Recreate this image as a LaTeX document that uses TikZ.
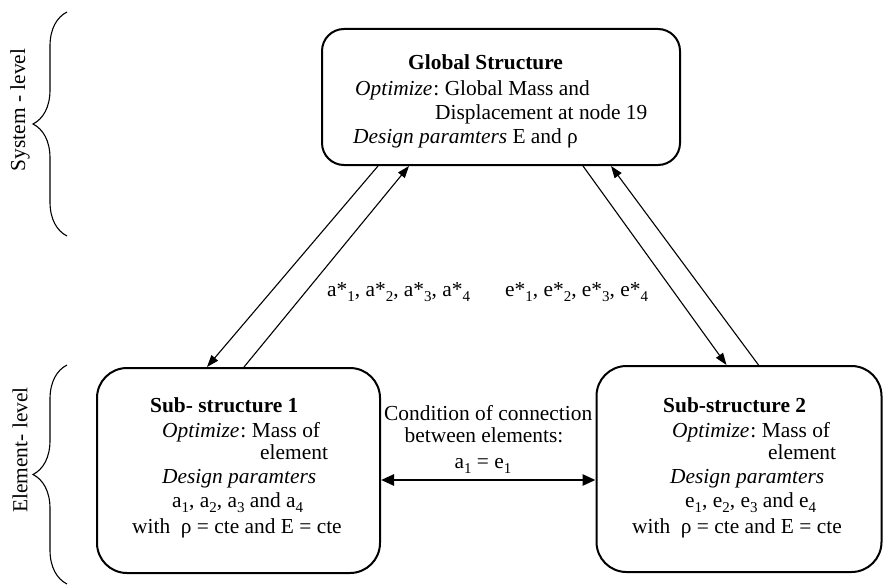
\documentclass[tikz,border=0pt]{standalone}
\usepackage{fontspec}
\setmainfont{Liberation Serif}
\usetikzlibrary{arrows.meta,decorations.pathreplacing}
% lowered, smaller index digits for a_1, e*_2, ...
\newcommand{\idx}[1]{\raisebox{-0.28em}{\fontsize{15}{15}\selectfont #1}}
\newcommand{\opt}{\textit{Optimize}\kern1pt:\ }
\begin{document}
\begin{tikzpicture}[x=1pt,y=-1pt,
  txt/.style={inner sep=0pt,font=\fontsize{21.4}{25}\selectfont},
  ln/.style={txt,anchor=base west},
  lnc/.style={txt,anchor=base},
  box/.style={draw,line width=2pt,rounded corners=#1,inner sep=0pt},
  flow/.style={line width=1.1pt,-{Triangle[length=12pt,width=8.5pt]}},
  link/.style={line width=2.6pt,{Triangle[length=13pt,width=11pt]}-{Triangle[length=13pt,width=11pt]}},
  lvlbrace/.style={line width=1.1pt,decorate,decoration={brace,amplitude=34pt}}
]
\useasboundingbox (0,0) rectangle (883,586);

% boxes
\node[box=22pt,minimum width=358pt,minimum height=136pt] (glob) at (501,97) {};
\node[box=30pt,minimum width=283pt,minimum height=205pt] (sub1) at (238.5,470.5) {};
\node[box=30pt,minimum width=285pt,minimum height=206pt] (sub2) at (739,469) {};

% global structure text
\node[ln,font=\fontsize{21.4}{25}\selectfont\bfseries] (g1) at (408,70) {Global Structure};
\node[ln] (g2) at (355,95) {\opt Global Mass and};
\node[ln] (g3) at (435,119) {Displacement at node 19};
\node[ln] (g4) at (353,143) {\textit{Design paramters} E and ρ};

% sub-structure 1 text
\node[ln,font=\fontsize{21.4}{25}\selectfont\bfseries] (s1a) at (150,412) {Sub- structure 1};
\node[ln] (s1b) at (162,437) {\opt Mass of};
\node[ln] (s1c) at (260,459) {element};
\node[ln] (s1d) at (162,483) {\textit{Design paramters}};
\node[ln] (s1e) at (172,507) {a\idx{1}, a\idx{2}, a\idx{3} and a\idx{4}};
\node[ln] (s1f) at (132,533) {with\ \ ρ = cte and E = cte};

% sub-structure 2 text
\node[ln,font=\fontsize{21.4}{25}\selectfont\bfseries] (s2a) at (663,412) {Sub-structure 2};
\node[ln] (s2b) at (672,437) {\opt Mass of};
\node[ln] (s2c) at (768,459) {element};
\node[ln] (s2d) at (670,483) {\textit{Design paramters}};
\node[ln] (s2e) at (685,507) {e\idx{1}, e\idx{2}, e\idx{3} and e\idx{4}};
\node[ln] (s2f) at (632,533) {with\ \ ρ = cte and E = cte};

% connection condition
\node[ln] (c1) at (384,420) {Condition of connection};
\node[lnc] (c2) at (484,442) {between elements:};
\node[lnc] (c3) at (483,468) {a\idx{1} = e\idx{1}};

% exchanged optima
\node[ln] (astar) at (327,296) {a*\idx{1}, a*\idx{2}, a*\idx{3}, a*\idx{4}};
\node[ln] (estar) at (505,296) {e*\idx{1}, e*\idx{2}, e*\idx{3}, e*\idx{4}};

% connectors between levels
\draw[flow] ([xshift=57pt]glob.south west) -- ([xshift=111pt]sub1.north west);
\draw[flow] ([xshift=148pt]sub1.north west) -- ([xshift=88pt]glob.south west);
\draw[flow] ([xshift=262pt]glob.south west) -- ([xshift=131pt]sub2.north west);
\draw[flow] ([xshift=163pt]sub2.north west) -- ([xshift=290pt]glob.south west);

% link between the two sub-structures
\draw[link] ([yshift=-9.5pt]sub1.east) -- ([yshift=-11pt]sub2.west);

% level braces and labels
\coordinate (sysB) at (67,236);
\coordinate (sysT) at (67,12);
\coordinate (elB) at (67,584);
\coordinate (elT) at (67,365);
\draw[lvlbrace] (sysB) -- (sysT);
\draw[lvlbrace] (elB) -- (elT);
\node[txt,rotate=90] (sys) at (20,110) {System - level};
\node[txt,rotate=90] (el) at (20,450) {Element- level};
\end{tikzpicture}
\end{document}
